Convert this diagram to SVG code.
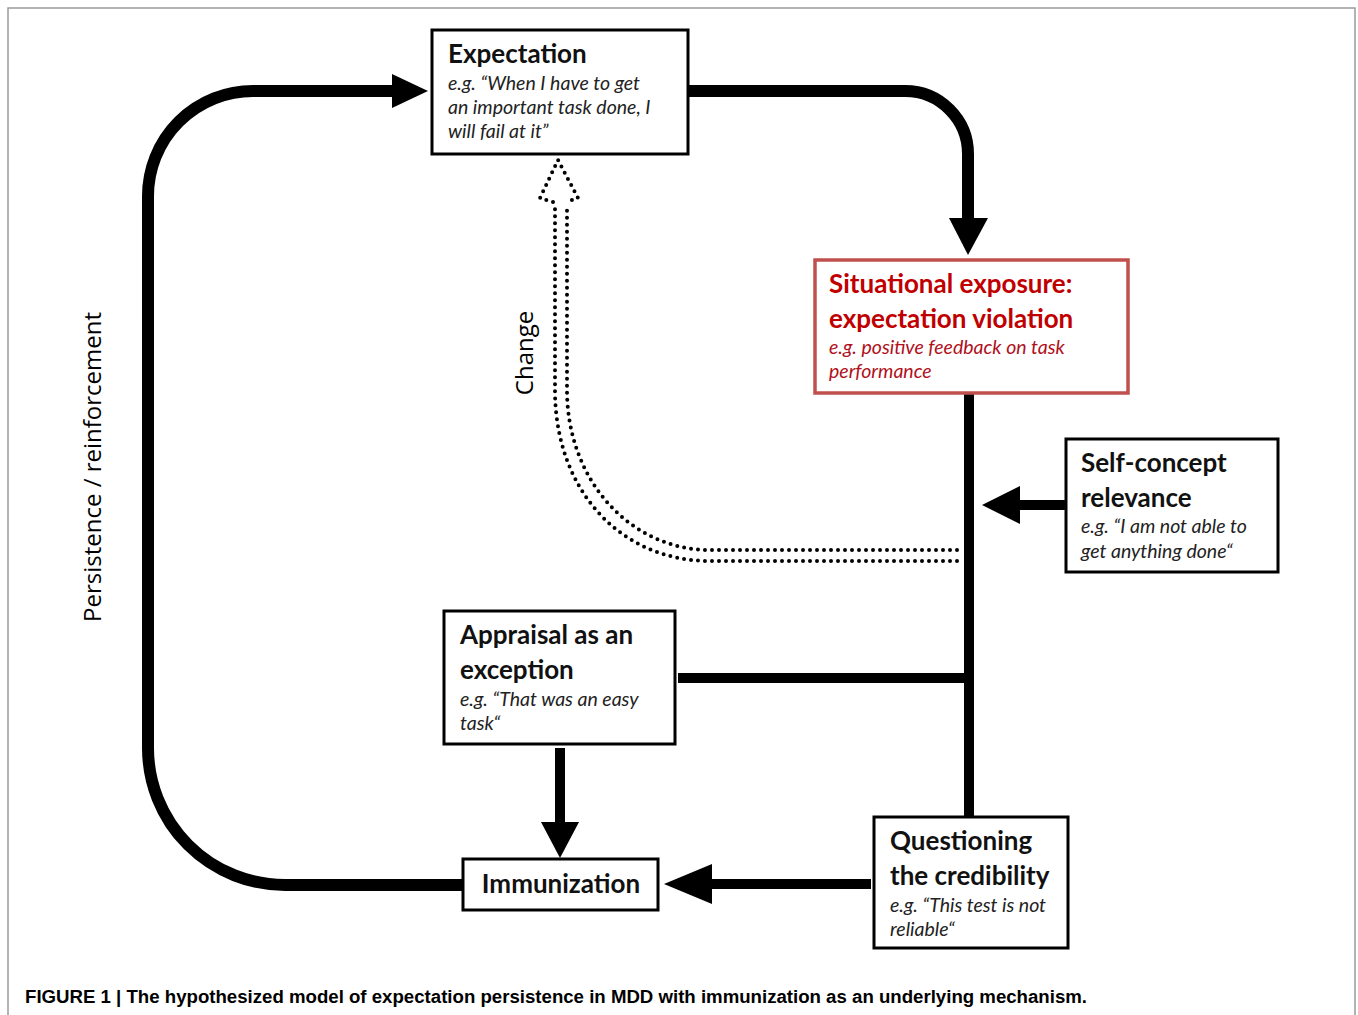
<svg xmlns="http://www.w3.org/2000/svg" width="1358" height="1015" viewBox="0 0 1358 1015">
<defs>
<style>
.box{fill:#fff;stroke:#000;stroke-width:3}
.rbox{fill:#fff;stroke:#c0504d;stroke-width:3.5}
.t{font-family:Lato,"Open Sans",sans-serif;font-weight:bold;font-size:26px;fill:#111}
.s{font-family:Lato,"Open Sans",sans-serif;font-style:italic;font-size:19.5px;fill:#222}
.rt{fill:#c00000}
.rs{fill:#b01020}
.thick{fill:none;stroke:#000;stroke-width:12}
.mid{fill:none;stroke:#000;stroke-width:10}
.dot{fill:none;stroke:#000;stroke-width:4;stroke-linecap:round;stroke-dasharray:0 7}
.lbl{font-family:"Open Sans",Lato,sans-serif;font-size:24px;fill:#000}
</style>
</defs>
<rect x="0" y="0" width="1358" height="1015" fill="#fff"/>
<rect x="8" y="8" width="1347" height="1030" fill="none" stroke="#9a9a9a" stroke-width="1.5"/>

<g id="connectors">
  <path class="thick" d="M688 91 H905 A63 63 0 0 1 968 154 V222"/>
  <polygon points="949,218 988,218 968,255"/>
  <path class="mid" d="M969 393 V816"/>
  <path class="mid" d="M1066 505 H1016"/>
  <polygon points="1020,486 1020,524 982,505"/>
  <path class="mid" d="M678 678 H965"/>
  <path class="mid" d="M560 748 V824"/>
  <polygon points="541,822 579,822 560,858"/>
  <path class="mid" d="M871 884 H708"/>
  <polygon points="712,864 712,904 664,884"/>
  <path class="thick" d="M463 885 H285 A137 137 0 0 1 148 748 V196 A105 105 0 0 1 253 91 H396"/>
  <polygon points="392,74 392,108 428,91"/>
  <path class="dot" d="M957 561 H710 C620 561 555 490 555 390 V204"/>
  <path class="dot" d="M957 550 H710 C630 550 567 480 567 390 V204"/>
  <path class="dot" d="M553 202 L540 198 L558 160 L578 198 L566 202"/>
  <text class="lbl" transform="translate(533 353) rotate(-90)" text-anchor="middle">Change</text>
  <text class="lbl" transform="translate(101 467) rotate(-90)" text-anchor="middle" font-size="25">Persistence / reinforcement</text>
</g>

<g id="expectation">
  <rect class="box" x="432" y="30" width="256" height="124"/>
  <text class="t" x="448" y="63">Expectation</text>
  <text class="s" x="448" y="90">e.g. “When I have to get</text>
  <text class="s" x="448" y="114">an important task done, I</text>
  <text class="s" x="448" y="138">will fail at it”</text>
</g>

<g id="situational">
  <rect class="rbox" x="815" y="260" width="313" height="133"/>
  <text class="t rt" x="829" y="293">Situational exposure:</text>
  <text class="t rt" x="829" y="328">expectation violation</text>
  <text class="s rs" x="829" y="354">e.g. positive feedback on task</text>
  <text class="s rs" x="829" y="378">performance</text>
</g>

<g id="selfconcept">
  <rect class="box" x="1066" y="439" width="212" height="133"/>
  <text class="t" x="1081" y="472">Self-concept</text>
  <text class="t" x="1081" y="507">relevance</text>
  <text class="s" x="1081" y="533">e.g. “I am not able to</text>
  <text class="s" x="1081" y="558">get anything done“</text>
</g>

<g id="appraisal">
  <rect class="box" x="444" y="611" width="231" height="133"/>
  <text class="t" x="460" y="644">Appraisal as an</text>
  <text class="t" x="460" y="679">exception</text>
  <text class="s" x="460" y="706">e.g. “That was an easy</text>
  <text class="s" x="460" y="730">task“</text>
</g>

<g id="immunization">
  <rect class="box" x="463" y="859" width="195" height="51"/>
  <text class="t" x="561" y="893" text-anchor="middle">Immunization</text>
</g>

<g id="questioning">
  <rect class="box" x="874" y="817" width="194" height="131"/>
  <text class="t" x="890" y="850">Questioning</text>
  <text class="t" x="890" y="885">the credibility</text>
  <text class="s" x="890" y="912">e.g. “This test is not</text>
  <text class="s" x="890" y="936">reliable“</text>
</g>

<text x="25" y="1003" font-family="'Liberation Sans',Arial,sans-serif" font-weight="bold" font-size="18" fill="#000" textLength="1062" lengthAdjust="spacingAndGlyphs">FIGURE 1 | The hypothesized model of expectation persistence in MDD with immunization as an underlying mechanism.</text>
</svg>
